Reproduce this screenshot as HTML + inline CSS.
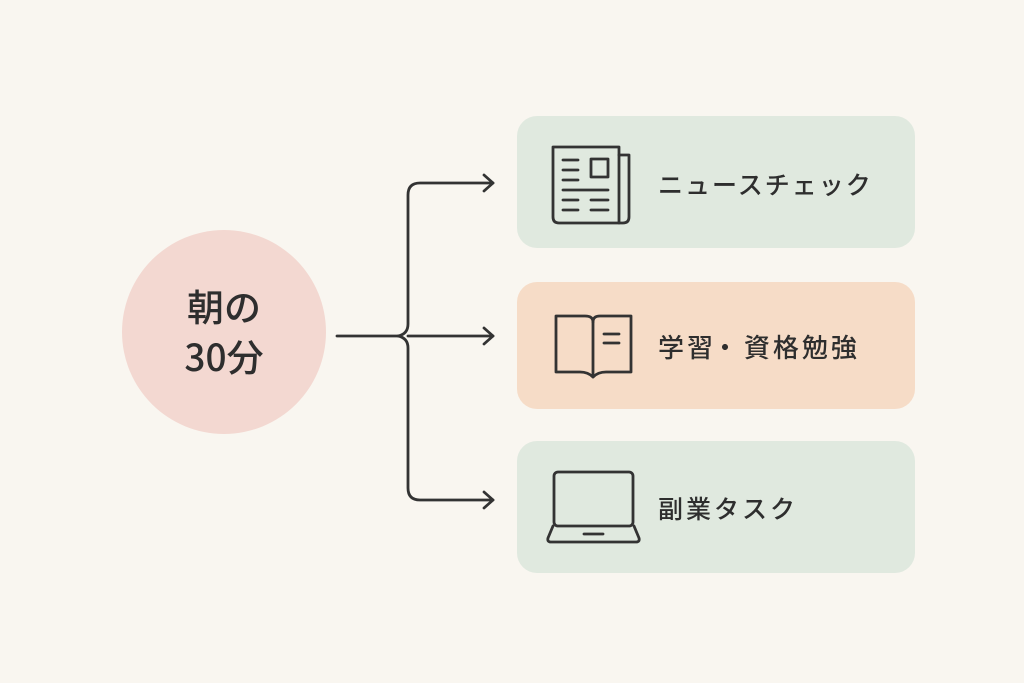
<!DOCTYPE html>
<html><head><meta charset="utf-8"><style>
html,body{margin:0;padding:0;background:#f9f6f0;}
body{width:1024px;height:683px;position:relative;overflow:hidden;font-family:"Liberation Sans","Noto Sans CJK JP",sans-serif;}
.t{position:absolute;color:#2e2e2e;font-size:25px;letter-spacing:2px;font-family:"Noto Sans CJK JP",sans-serif;font-weight:500;}
</style></head><body>
<svg width="1024" height="683" style="position:absolute;left:0;top:0">
<circle cx="224" cy="332" r="102" fill="#f3d8d1"/>
<rect x="517" y="116" width="398" height="132" rx="20" fill="#e0e9df"/>
<rect x="517" y="282" width="398" height="127" rx="20" fill="#f6dcc7"/>
<rect x="517" y="441" width="398" height="132" rx="20" fill="#e0e9df"/>
<g fill="none" stroke="#333" stroke-width="2.8" stroke-linecap="round" stroke-linejoin="round">
<path d="M337 336 H400"/>
<path d="M493 183 H420 Q408 183 408 195 V324 Q408 334 398 336 Q408 338 408 348 V488 Q408 500 420 500 H493"/>
<path d="M408 336 H493"/>
<path d="M484 175 L493 183 L484 191"/>
<path d="M484 328 L493 336 L484 344"/>
<path d="M484 492 L493 500 L484 508"/>
<path d="M553 147 H619 V223 H559 Q553 223 553 217 Z"/>
<path d="M619 155 H629 V217 Q629 223 623 223 H619"/>
<path d="M563 160 H578 M563 170 H578 M563 180 H578 M563 190 H608 M563 200 H578 M591 200 H608 M563 210 H578 M591 210 H608"/>
<rect x="591" y="159" width="17" height="18"/>
<path d="M556 316 H585 Q593 316 593 322 V377 Q588 372 580 372 H556 Z"/>
<path d="M593 322 Q593 316 600 316 H631 V372 H606 Q598 372 593 377"/>
<path d="M604 334 H619 M604 343 H619"/>
<rect x="554" y="472" width="79" height="54" rx="4"/>
<path d="M553 526 L548 538 Q547 542 551 542 H636 Q640 542 639 538 L634 526"/>
<path d="M584 534 H603"/>
</g>
</svg>
<div class="t" style="left:122px;top:280px;width:204px;text-align:center;font-size:37px;line-height:50px;letter-spacing:0">朝の<br>30分</div>
<div class="t" style="left:658px;top:166px">ニュースチェック</div>
<div class="t" style="left:658px;top:328px;font-size:26px;letter-spacing:3px">学習<span style="letter-spacing:-3px;margin-left:-4px">・</span> 資格勉強</div>
<div class="t" style="left:658px;top:490px;letter-spacing:3px">副業タスク</div>
</body></html>
